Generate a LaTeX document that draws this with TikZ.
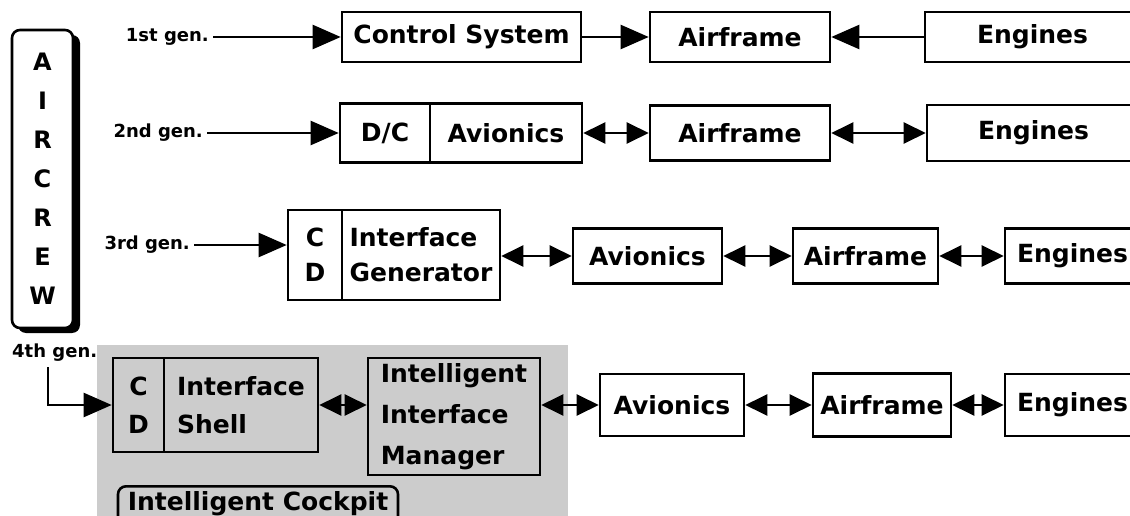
\documentclass[tikz,border=0pt]{standalone}
\usepackage{fontspec}
\setmainfont{DejaVu Sans}
\usetikzlibrary{arrows.meta}
\newcommand{\blockfont}{\fontsize{25}{35}\selectfont\bfseries}
\newcommand{\genfont}{\fontsize{18}{20}\selectfont\bfseries}

\begin{document}
\begin{tikzpicture}[x=1pt, y=-1pt,
  block/.style={draw, line width=2.6pt, inner sep=0pt, font=\blockfont, align=center},
  genlab/.style={font=\genfont, inner sep=4pt},
  arr/.style={line width=2.3pt, -{Triangle[length=28pt, width=24pt]}},
  dbl/.style={line width=2.3pt, {Triangle[length=22pt, width=21pt]}-{Triangle[length=22pt, width=21pt]}}]
  \useasboundingbox (0,0) rectangle (1130,516);
  \clip (0,0) rectangle (1130,516);
  % shaded cockpit area
  \fill[black!20] (97,345) rectangle (568,520);
  % aircrew column, with its shadow
  \fill[rounded corners=8pt] (18,35) rectangle (80,333);
  \node[block, fill=white, rounded corners=8pt, minimum width=61, minimum height=298,
        font=\fontsize{24}{39}\selectfont\bfseries] (crew) at (42.5,179) {A\\I\\R\\C\\R\\E\\W};

  % 1st gen.
  \node[genlab, anchor=east] (g1) at (213,37) {1st gen.};
  \node[block, minimum width=239, minimum height=50] (cs1) at (461.5,37) {Control System};
  \node[block, minimum width=180, minimum height=50] (af1) at (740,37) {Airframe};
  \node[block, minimum width=215, minimum height=50] (en1) at (1032.5,37) {Engines};
  \draw[arr] (g1) -- (cs1);
  \draw[arr] (cs1) -- (af1);
  \draw[arr] (en1) -- (af1);

  % 2nd gen.
  \node[genlab, anchor=east] (g2) at (207,133) {2nd gen.};
  \node[block, minimum width=90, minimum height=59] (dc2) at (385,133) {D/C};
  \node[block, minimum width=152, minimum height=59] (av2) at (506,133) {Avionics};
  \node[block, minimum width=180, minimum height=55] (af2) at (740,133) {Airframe};
  \node[block, minimum width=213, minimum height=56] (en2) at (1033.5,133) {Engines};
  \draw[arr] (g2) -- (dc2);
  \draw[dbl] (av2) -- (af2);
  \draw[dbl] (af2) -- (en2);

  % 3rd gen.
  \node[genlab, anchor=east] (g3) at (194,245) {3rd gen.};
  \node[block, minimum width=54, minimum height=90] (cd3) at (315,255) {C\\D};
  \node[block, minimum width=158, minimum height=90, align=left] (ig3) at (421,255) {Interface\\Generator};
  \node[block, minimum width=149, minimum height=55] (av3) at (647.5,256) {Avionics};
  \node[block, minimum width=145, minimum height=55] (af3) at (865.5,256) {Airframe};
  \node[block, minimum width=135, minimum height=55] (en3) at (1072.5,256) {Engines};
  \draw[arr] (g3.east) -- (g3.east -| cd3.west);
  \draw[dbl] (ig3.east |- av3) -- (av3);
  \draw[dbl] (av3) -- (af3);
  \draw[dbl] (af3) -- (en3);

  % 4th gen.
  \node[genlab, anchor=west] (g4) at (8,353) {4th gen.};
  \coordinate (c4) at (48,367);
  \node[block, font=\fontsize{25}{38}\selectfont\bfseries, minimum width=51, minimum height=94] (cd4) at (138.5,405) {C\\D};
  \node[block, font=\fontsize{25}{38}\selectfont\bfseries, minimum width=154, minimum height=94, align=left] (sh4) at (241,405) {Interface\\Shell};
  \node[block, font=\fontsize{25}{41}\selectfont\bfseries, minimum width=172, minimum height=117, align=left] (iim) at (454,416.5) {Intelligent\\Interface\\Manager};
  \node[block, minimum width=144, minimum height=62] (av4) at (672,405) {Avionics};
  \node[block, minimum width=138, minimum height=63] (af4) at (882,405) {Airframe};
  \node[block, minimum width=135, minimum height=62] (en4) at (1072.5,405) {Engines};
  \node[block, rounded corners=8pt, anchor=north, inner xsep=6pt, inner ysep=5pt,
        text depth=25pt, minimum width=280] (ck) at (258,485) {Intelligent Cockpit};
  \draw[arr] (c4) |- (cd4);
  \draw[dbl] (sh4) -- (sh4 -| iim.west);
  \draw[dbl] (av4 -| iim.east) -- (av4);
  \draw[dbl] (av4) -- (af4);
  \draw[dbl] (af4) -- (en4);
\end{tikzpicture}
\end{document}
